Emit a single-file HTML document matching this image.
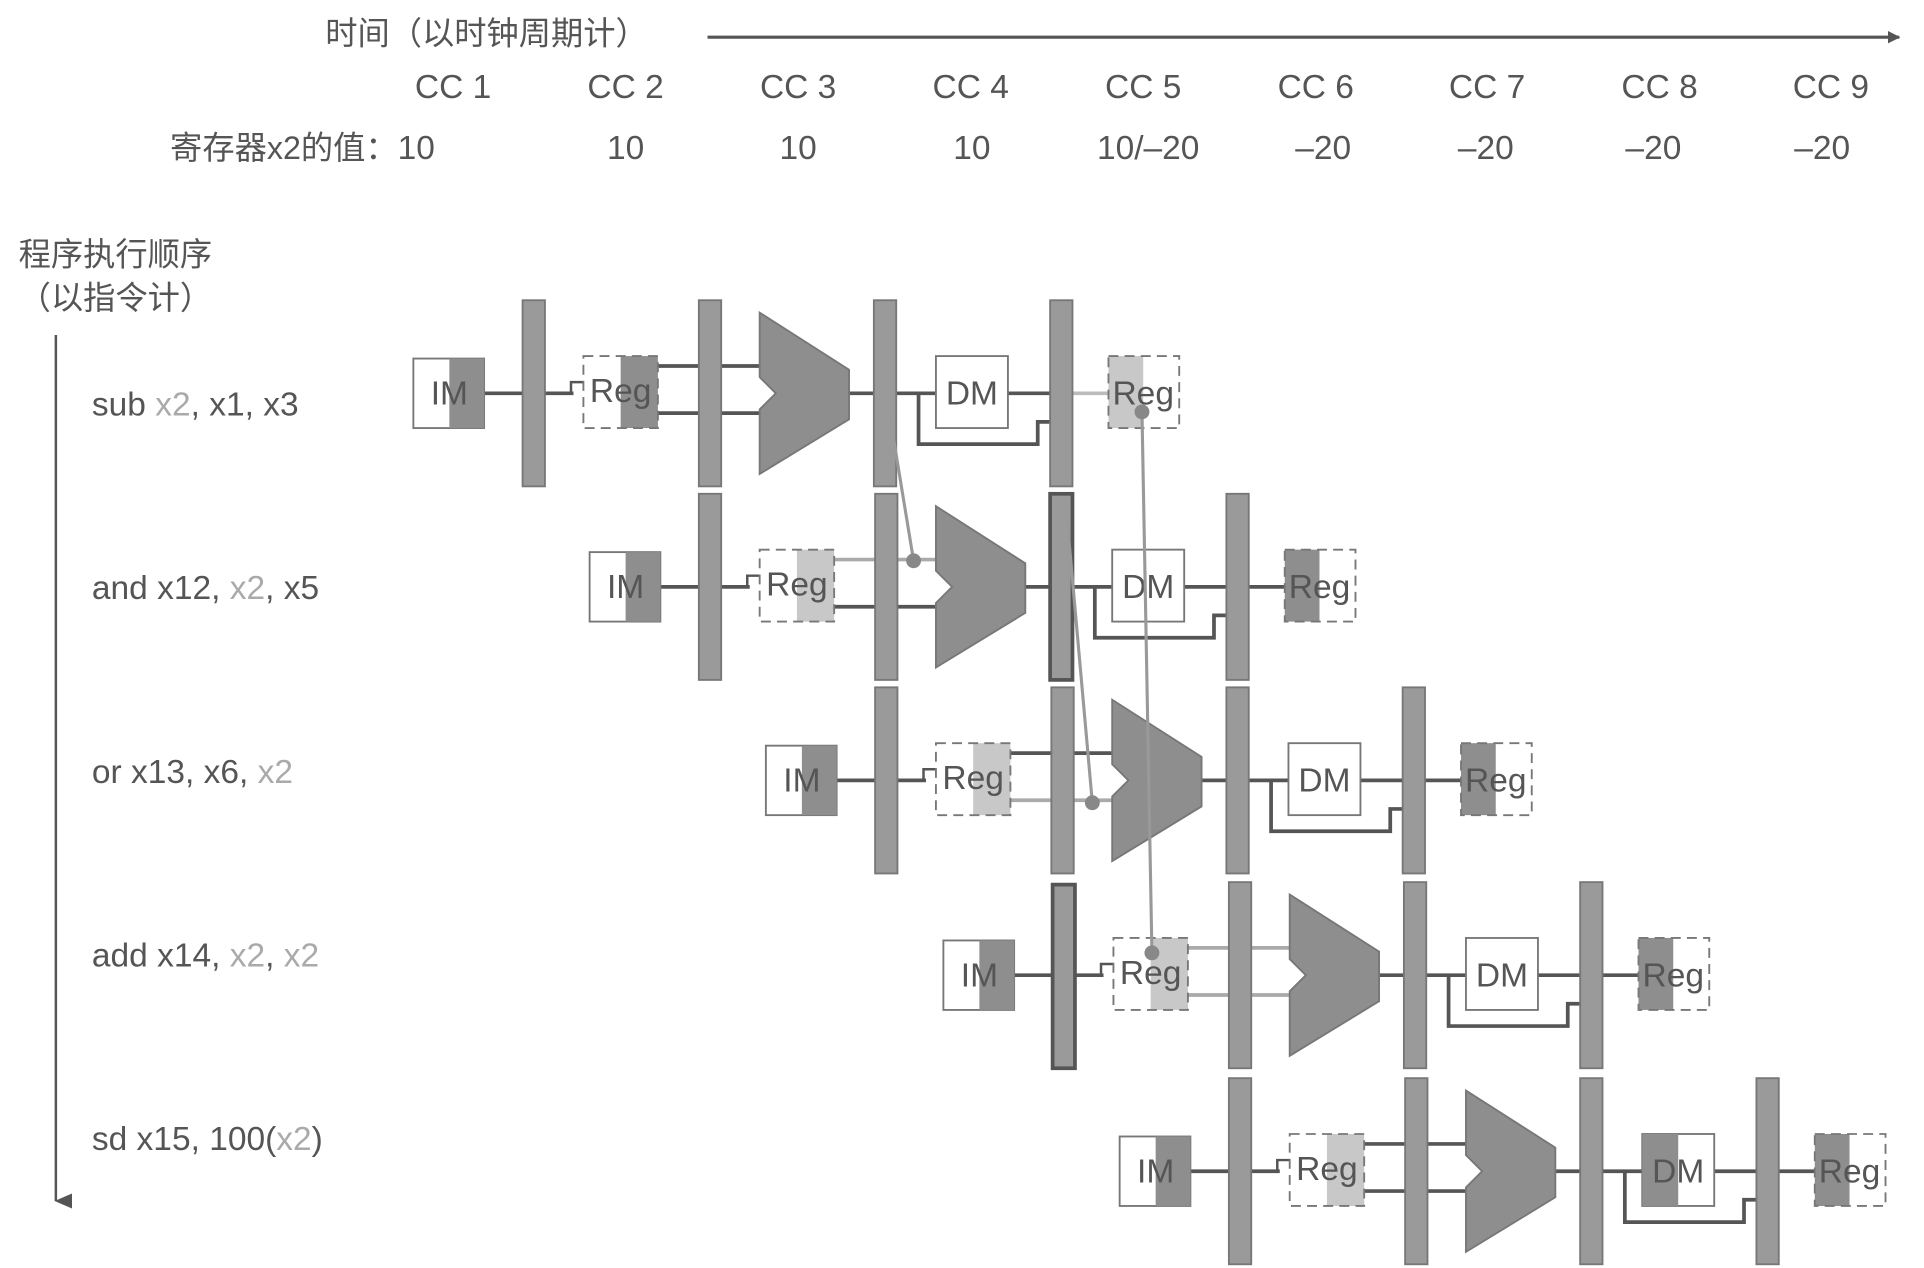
<!DOCTYPE html>
<html><head><meta charset="utf-8"><style>
html,body{margin:0;padding:0;background:#fff;}
svg{display:block;}
text{font-family:"Liberation Sans","Noto Sans CJK SC",sans-serif;fill:#555;}
</style></head><body>
<svg width="1924" height="1268" viewBox="0 0 1550 1022" preserveAspectRatio="none" xmlns="http://www.w3.org/2000/svg">
<defs>
<marker id="ah" markerWidth="10" markerHeight="10" refX="9" refY="5" orient="auto" markerUnits="userSpaceOnUse"><path d="M0,0 L10,5 L0,10 z" fill="#555"/></marker>
<marker id="av" markerWidth="12" markerHeight="14" refX="6" refY="13" orient="auto-start-reverse" markerUnits="userSpaceOnUse"><path d="M0,0 L12,0 L6,14 z" fill="#555"/></marker>
</defs>
<!-- header -->
<text x="262" y="36" font-size="26">时间（以时钟周期计）</text>
<line x1="570" y1="30" x2="1530" y2="30" stroke="#555" stroke-width="2.5" marker-end="url(#ah)"/>
<g font-size="27" text-anchor="middle">
<text x="365" y="79">CC 1</text><text x="504" y="79">CC 2</text><text x="643" y="79">CC 3</text><text x="782" y="79">CC 4</text><text x="921" y="79">CC 5</text><text x="1060" y="79">CC 6</text><text x="1198" y="79">CC 7</text><text x="1337" y="79">CC 8</text><text x="1475" y="79">CC 9</text>
<text x="504" y="128">10</text><text x="643" y="128">10</text><text x="783" y="128">10</text><text x="925" y="128">10/–20</text><text x="1066" y="128">–20</text><text x="1197" y="128">–20</text><text x="1332" y="128">–20</text><text x="1468" y="128">–20</text>
</g>
<text x="137" y="128" font-size="26">寄存器x2的值：<tspan font-size="27">10</tspan></text>
<text x="15" y="214" font-size="26">程序执行顺序</text>
<text x="15" y="249" font-size="26">（以指令计）</text>
<line x1="45" y1="270" x2="45" y2="968" stroke="#555" stroke-width="2" marker-end="url(#av)"/>
<!-- instruction labels -->
<g font-size="27">
<text x="74" y="335">sub <tspan fill="#aaa">x2</tspan>, x1, x3</text>
<text x="74" y="483">and x12, <tspan fill="#aaa">x2</tspan>, x5</text>
<text x="74" y="631">or x13, x6, <tspan fill="#aaa">x2</tspan></text>
<text x="74" y="779">add x14, <tspan fill="#aaa">x2</tspan>, <tspan fill="#aaa">x2</tspan></text>
<text x="74" y="927">sd x15, 100(<tspan fill="#aaa">x2</tspan>)</text>
</g>

<!-- row template drawn 5 times -->
<g id="rows" stroke-width="3">
<!-- ROW 1 -->
<g transform="translate(0,0)">
<line x1="390" y1="317" x2="462" y2="317" stroke="#555"/>
<polyline points="460,317 460,308 470,308" fill="none" stroke="#555" stroke-width="2"/>
<line x1="530" y1="295" x2="612" y2="295" stroke="#555"/>
<line x1="530" y1="333" x2="612" y2="333" stroke="#555"/>
<line x1="684" y1="317" x2="754" y2="317" stroke="#555"/>
<polyline points="740,317 740,358 836,358 836,340 850,340" fill="none" stroke="#555"/>
<line x1="812" y1="317" x2="850" y2="317" stroke="#555"/>
<line x1="860" y1="317" x2="893" y2="317" stroke="#bbb"/>
<rect x="421" y="242" width="18" height="150" fill="#9a9a9a" stroke="#777" stroke-width="1.5"/>
<rect x="563" y="242" width="18" height="150" fill="#9a9a9a" stroke="#777" stroke-width="1.5"/>
<rect x="704" y="242" width="18" height="150" fill="#9a9a9a" stroke="#777" stroke-width="1.5"/>
<rect x="846" y="242" width="18" height="150" fill="#9a9a9a" stroke="#777" stroke-width="1.5"/>
<rect x="333" y="289" width="57" height="56" fill="#fff" stroke="#777" stroke-width="1.5"/>
<rect x="362" y="289" width="28" height="56" fill="#8e8e8e"/>
<text x="362" y="326" font-size="27" text-anchor="middle" stroke="none">IM</text>
<rect x="500" y="287" width="30" height="58" fill="#8e8e8e"/>
<rect x="470" y="287" width="60" height="58" fill="none" stroke="#777" stroke-width="1.5" stroke-dasharray="8,5"/>
<text x="500" y="324" font-size="27" text-anchor="middle" stroke="none">Reg</text>
<polygon points="612,252 684,298 684,338 612,382 612,330 625,317 612,304" fill="#8e8e8e" stroke="#777" stroke-width="1.5"/>
<rect x="754" y="287" width="58" height="58" fill="#fff" stroke="#777" stroke-width="1.5"/>
<text x="783" y="326" font-size="27" text-anchor="middle" stroke="none">DM</text>
<rect x="893" y="287" width="28" height="58" fill="#c8c8c8"/>
<rect x="893" y="287" width="57" height="58" fill="none" stroke="#777" stroke-width="1.5" stroke-dasharray="8,5"/>
<text x="921" y="326" font-size="27" text-anchor="middle" stroke="none">Reg</text>
</g>
<!-- ROW 2 -->
<g transform="translate(142,156)">
<line x1="390" y1="317" x2="462" y2="317" stroke="#555"/>
<polyline points="460,317 460,308 470,308" fill="none" stroke="#555" stroke-width="2"/>
<line x1="530" y1="295" x2="612" y2="295" stroke="#aaa"/>
<line x1="530" y1="333" x2="612" y2="333" stroke="#555"/>
<line x1="684" y1="317" x2="754" y2="317" stroke="#555"/>
<polyline points="740,317 740,358 836,358 836,340 850,340" fill="none" stroke="#555"/>
<line x1="812" y1="317" x2="893" y2="317" stroke="#555"/>
<rect x="421" y="242" width="18" height="150" fill="#9a9a9a" stroke="#777" stroke-width="1.5"/>
<rect x="563" y="242" width="18" height="150" fill="#9a9a9a" stroke="#777" stroke-width="1.5"/>
<rect x="704" y="242" width="18" height="150" fill="#9a9a9a" stroke="#555" stroke-width="3"/>
<rect x="846" y="242" width="18" height="150" fill="#9a9a9a" stroke="#777" stroke-width="1.5"/>
<rect x="333" y="289" width="57" height="56" fill="#fff" stroke="#777" stroke-width="1.5"/>
<rect x="362" y="289" width="28" height="56" fill="#8e8e8e"/>
<text x="362" y="326" font-size="27" text-anchor="middle" stroke="none">IM</text>
<rect x="500" y="287" width="30" height="58" fill="#c8c8c8"/>
<rect x="470" y="287" width="60" height="58" fill="none" stroke="#777" stroke-width="1.5" stroke-dasharray="8,5"/>
<text x="500" y="324" font-size="27" text-anchor="middle" stroke="none">Reg</text>
<polygon points="612,252 684,298 684,338 612,382 612,330 625,317 612,304" fill="#8e8e8e" stroke="#777" stroke-width="1.5"/>
<rect x="754" y="287" width="58" height="58" fill="#fff" stroke="#777" stroke-width="1.5"/>
<text x="783" y="326" font-size="27" text-anchor="middle" stroke="none">DM</text>
<rect x="893" y="287" width="28" height="58" fill="#8e8e8e"/>
<rect x="893" y="287" width="57" height="58" fill="none" stroke="#777" stroke-width="1.5" stroke-dasharray="8,5"/>
<text x="921" y="326" font-size="27" text-anchor="middle" stroke="none">Reg</text>
</g>
<!-- ROW 3 -->
<g transform="translate(284,312)">
<line x1="390" y1="317" x2="462" y2="317" stroke="#555"/>
<polyline points="460,317 460,308 470,308" fill="none" stroke="#555" stroke-width="2"/>
<line x1="530" y1="295" x2="612" y2="295" stroke="#555"/>
<line x1="530" y1="333" x2="612" y2="333" stroke="#aaa"/>
<line x1="684" y1="317" x2="754" y2="317" stroke="#555"/>
<polyline points="740,317 740,358 836,358 836,340 850,340" fill="none" stroke="#555"/>
<line x1="812" y1="317" x2="893" y2="317" stroke="#555"/>
<rect x="421" y="242" width="18" height="150" fill="#9a9a9a" stroke="#777" stroke-width="1.5"/>
<rect x="563" y="242" width="18" height="150" fill="#9a9a9a" stroke="#777" stroke-width="1.5"/>
<rect x="704" y="242" width="18" height="150" fill="#9a9a9a" stroke="#777" stroke-width="1.5"/>
<rect x="846" y="242" width="18" height="150" fill="#9a9a9a" stroke="#777" stroke-width="1.5"/>
<rect x="333" y="289" width="57" height="56" fill="#fff" stroke="#777" stroke-width="1.5"/>
<rect x="362" y="289" width="28" height="56" fill="#8e8e8e"/>
<text x="362" y="326" font-size="27" text-anchor="middle" stroke="none">IM</text>
<rect x="500" y="287" width="30" height="58" fill="#c8c8c8"/>
<rect x="470" y="287" width="60" height="58" fill="none" stroke="#777" stroke-width="1.5" stroke-dasharray="8,5"/>
<text x="500" y="324" font-size="27" text-anchor="middle" stroke="none">Reg</text>
<polygon points="612,252 684,298 684,338 612,382 612,330 625,317 612,304" fill="#8e8e8e" stroke="#777" stroke-width="1.5"/>
<rect x="754" y="287" width="58" height="58" fill="#fff" stroke="#777" stroke-width="1.5"/>
<text x="783" y="326" font-size="27" text-anchor="middle" stroke="none">DM</text>
<rect x="893" y="287" width="28" height="58" fill="#8e8e8e"/>
<rect x="893" y="287" width="57" height="58" fill="none" stroke="#777" stroke-width="1.5" stroke-dasharray="8,5"/>
<text x="921" y="326" font-size="27" text-anchor="middle" stroke="none">Reg</text>
</g>
<!-- ROW 4 -->
<g transform="translate(427,469)">
<line x1="390" y1="317" x2="462" y2="317" stroke="#555"/>
<polyline points="460,317 460,308 470,308" fill="none" stroke="#555" stroke-width="2"/>
<line x1="530" y1="295" x2="612" y2="295" stroke="#aaa"/>
<line x1="530" y1="333" x2="612" y2="333" stroke="#aaa"/>
<line x1="684" y1="317" x2="754" y2="317" stroke="#555"/>
<polyline points="740,317 740,358 836,358 836,340 850,340" fill="none" stroke="#555"/>
<line x1="812" y1="317" x2="893" y2="317" stroke="#555"/>
<rect x="421" y="244" width="18" height="148" fill="#9a9a9a" stroke="#555" stroke-width="3"/>
<rect x="563" y="242" width="18" height="150" fill="#9a9a9a" stroke="#777" stroke-width="1.5"/>
<rect x="704" y="242" width="18" height="150" fill="#9a9a9a" stroke="#777" stroke-width="1.5"/>
<rect x="846" y="242" width="18" height="150" fill="#9a9a9a" stroke="#777" stroke-width="1.5"/>
<rect x="333" y="289" width="57" height="56" fill="#fff" stroke="#777" stroke-width="1.5"/>
<rect x="362" y="289" width="28" height="56" fill="#8e8e8e"/>
<text x="362" y="326" font-size="27" text-anchor="middle" stroke="none">IM</text>
<rect x="500" y="287" width="30" height="58" fill="#c8c8c8"/>
<rect x="470" y="287" width="60" height="58" fill="none" stroke="#777" stroke-width="1.5" stroke-dasharray="8,5"/>
<text x="500" y="324" font-size="27" text-anchor="middle" stroke="none">Reg</text>
<polygon points="612,252 684,298 684,338 612,382 612,330 625,317 612,304" fill="#8e8e8e" stroke="#777" stroke-width="1.5"/>
<rect x="754" y="287" width="58" height="58" fill="#fff" stroke="#777" stroke-width="1.5"/>
<text x="783" y="326" font-size="27" text-anchor="middle" stroke="none">DM</text>
<rect x="893" y="287" width="28" height="58" fill="#8e8e8e"/>
<rect x="893" y="287" width="57" height="58" fill="none" stroke="#777" stroke-width="1.5" stroke-dasharray="8,5"/>
<text x="921" y="326" font-size="27" text-anchor="middle" stroke="none">Reg</text>
</g>
<!-- ROW 5 -->
<g transform="translate(569,627)">
<line x1="390" y1="317" x2="462" y2="317" stroke="#555"/>
<polyline points="460,317 460,308 470,308" fill="none" stroke="#555" stroke-width="2"/>
<line x1="530" y1="295" x2="612" y2="295" stroke="#555"/>
<line x1="530" y1="333" x2="612" y2="333" stroke="#555"/>
<line x1="684" y1="317" x2="754" y2="317" stroke="#555"/>
<polyline points="740,317 740,358 836,358 836,340 850,340" fill="none" stroke="#555"/>
<line x1="812" y1="317" x2="893" y2="317" stroke="#555"/>
<rect x="421" y="242" width="18" height="150" fill="#9a9a9a" stroke="#777" stroke-width="1.5"/>
<rect x="563" y="242" width="18" height="150" fill="#9a9a9a" stroke="#777" stroke-width="1.5"/>
<rect x="704" y="242" width="18" height="150" fill="#9a9a9a" stroke="#777" stroke-width="1.5"/>
<rect x="846" y="242" width="18" height="150" fill="#9a9a9a" stroke="#777" stroke-width="1.5"/>
<rect x="333" y="289" width="57" height="56" fill="#fff" stroke="#777" stroke-width="1.5"/>
<rect x="362" y="289" width="28" height="56" fill="#8e8e8e"/>
<text x="362" y="326" font-size="27" text-anchor="middle" stroke="none">IM</text>
<rect x="500" y="287" width="30" height="58" fill="#c8c8c8"/>
<rect x="470" y="287" width="60" height="58" fill="none" stroke="#777" stroke-width="1.5" stroke-dasharray="8,5"/>
<text x="500" y="324" font-size="27" text-anchor="middle" stroke="none">Reg</text>
<polygon points="612,252 684,298 684,338 612,382 612,330 625,317 612,304" fill="#8e8e8e" stroke="#777" stroke-width="1.5"/>
<rect x="754" y="287" width="58" height="58" fill="#fff" stroke="#777" stroke-width="1.5"/>
<rect x="754" y="287" width="29" height="58" fill="#8e8e8e"/>
<text x="783" y="326" font-size="27" text-anchor="middle" stroke="none">DM</text>
<rect x="893" y="287" width="28" height="58" fill="#8e8e8e"/>
<rect x="893" y="287" width="57" height="58" fill="none" stroke="#777" stroke-width="1.5" stroke-dasharray="8,5"/>
<text x="921" y="326" font-size="27" text-anchor="middle" stroke="none">Reg</text>
</g>
</g>
<!-- forwarding lines -->
<g stroke="#999" stroke-width="2.5" fill="#888">
<line x1="716" y1="330" x2="736" y2="452"/>
<circle cx="736" cy="452" r="6" stroke="none"/>
<line x1="858" y1="400" x2="880" y2="647"/>
<circle cx="880" cy="647" r="6" stroke="none"/>
<line x1="920" y1="332" x2="928" y2="768"/>
<circle cx="920" cy="332" r="6" stroke="none"/>
<circle cx="928" cy="768" r="6" stroke="none"/>
</g>
</svg>
</body></html>
